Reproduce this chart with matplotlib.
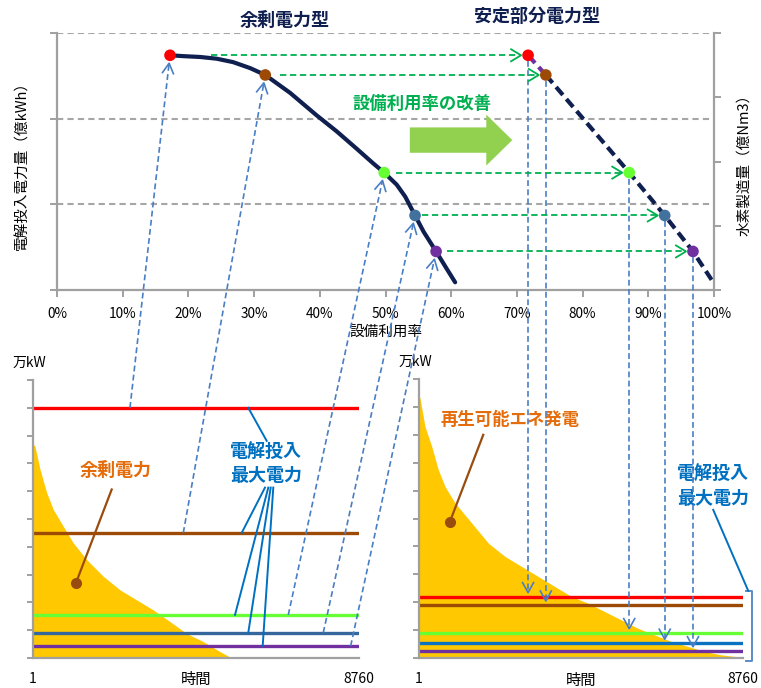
import numpy as np
import matplotlib
matplotlib.use("Agg")
import matplotlib.pyplot as plt
from matplotlib.lines import Line2D
from matplotlib.patches import FancyArrow

plt.rcParams['font.family'] = ['Noto Sans CJK JP', 'DejaVu Sans']

# --- 上段: 設備利用率 vs 電解投入電力量 ---
pt_colors = ['#FF0000', '#9C4A06', '#66FF33', '#41719C', '#7030A0']
pt_y = [2.74, 2.51, 1.37, 0.87, 0.45]          # 電解投入電力量
pt_x_surplus = [17.2, 31.7, 49.8, 54.5, 57.7]   # 余剰電力型の設備利用率(%)
pt_x_stable = [71.7, 74.4, 87.1, 92.5, 96.8]    # 安定部分電力型の設備利用率(%)
green_start_x = [23.5, 33.9, 51.6, 55.5, 59.3]

curve_x = [17.2, 19.2, 21.8, 24.3, 26.8, 29.4, 31.7, 35.5, 39.5, 42.6, 45.6, 48.1, 49.8, 51.7,
           53.0, 54.5, 55.8, 57.7, 59.3, 60.6]
curve_y = [2.74, 2.73, 2.72, 2.70, 2.66, 2.59, 2.51, 2.30, 2.04, 1.85, 1.65, 1.48, 1.37, 1.23,
           1.09, 0.87, 0.68, 0.45, 0.25, 0.09]
stable_end = (99.8, 0.10)

# --- 下段: 持続曲線 (時間 vs 万kW) ---
hours_l = [1, 54, 188, 368, 546, 814, 1083, 1443, 1889, 2338, 2786, 3232, 3681, 4130, 4576, 5025, 5339]
surplus_kw = [7.7, 7.62, 6.79, 5.95, 5.34, 4.74, 4.14, 3.54, 2.94, 2.45, 2.09, 1.73, 1.31, 0.88, 0.59, 0.23, 0.0]
hours_r = [1, 27, 162, 343, 522, 703, 973, 1424, 1873, 2325, 2776, 3225, 3676, 4127, 4576, 5028,
           5479, 5928, 6379, 6830, 7279, 7731, 8182, 8723, 8760]
renew_kw = [9.4, 9.32, 8.30, 7.59, 6.75, 6.15, 5.56, 4.84, 4.12, 3.64, 3.28, 2.92, 2.56, 2.20, 1.96, 1.66,
            1.36, 1.06, 0.82, 0.59, 0.41, 0.23, 0.11, 0.03, 0.0]
levels_l = [9.0, 4.5, 1.55, 0.91, 0.43]
levels_r = [2.2, 1.9, 0.91, 0.53, 0.26]
line_colors_l = ['#FF0000', '#9C4A06', '#66FF33', '#35679D', '#7030A0']
line_colors_r = ['#FF0000', '#9C4A06', '#66FF33', '#0A72C0', '#7030A0']
arrow_start_h = [2606, 4039, 6860, 7800, 8536]

NAVY = '#0F1F4F'
GRAY = '#A0A0A0'
ORANGE = '#E46C0A'
BLUE_TXT = '#0070C0'
ARROW_BLUE = '#4A7EC4'
ARROW_GREEN = '#00B050'
LEADER_BROWN = '#994C0F'

W, H = 761, 688
fig = plt.figure(figsize=(W / 100, H / 100), dpi=100)


def box(l, t, r, b):
    return [l / W, (H - b) / H, (r - l) / W, (b - t) / H]


def gray_spines(ax, keep):
    for k, s in ax.spines.items():
        if k in keep:
            s.set_color(GRAY)
            s.set_linewidth(1.6)
        else:
            s.set_visible(False)


# 上段
ax = fig.add_axes(box(57, 33, 714, 290))
ax.set_xlim(0, 100)
ax.set_ylim(0, 3)
ax.set_xticks(range(0, 101, 10))
ax.set_xticklabels([f'{v}%' for v in range(0, 101, 10)], fontsize=9.8)
ax.set_yticks([0, 1, 2, 3])
ax.set_yticklabels([])
ax.tick_params(axis='both', color=GRAY, length=5, width=1.4, pad=7)
gray_spines(ax, ['left', 'bottom'])
for g in [1, 2, 3]:
    ax.axhline(g, color='#A6A6A6', lw=1.5, dashes=(3, 2), zorder=1)
ax.set_xlabel('設備利用率', fontsize=10.5, labelpad=3)
ax.set_ylabel('電解投入電力量（億kWh）', fontsize=10.5, labelpad=8)

axr = ax.twinx()
axr.set_ylim(0, 4)
axr.set_yticks(range(5))
axr.set_yticklabels([])
axr.tick_params(axis='y', color=GRAY, length=5, width=1.4)
gray_spines(axr, ['right'])
axr.set_ylabel('水素製造量（億Nm3）', fontsize=10.5, labelpad=8)

ax.plot(curve_x, curve_y, color=NAVY, lw=3, solid_capstyle='round', solid_joinstyle='round', zorder=3)
ax.plot(pt_x_stable[:2], pt_y[:2], color='#7030A0', lw=3, dashes=(2.5, 1.3), zorder=3)
ax.plot(pt_x_stable[1:] + [stable_end[0]], pt_y[1:] + [stable_end[1]], color=NAVY, lw=3,
        dashes=(2.5, 1.3), zorder=3)
ax.scatter(pt_x_surplus, pt_y, s=70, c=pt_colors, zorder=4, linewidths=0)
ax.scatter(pt_x_stable, pt_y, s=70, c=pt_colors, zorder=4, linewidths=0)

ax.text(34.7, 3.15, '余剰電力型', ha='center', va='center', fontsize=13, fontweight='bold', color=NAVY)
ax.text(73.1, 3.19, '安定部分電力型', ha='center', va='center', fontsize=13, fontweight='bold', color=NAVY)
ax.text(55.6, 2.17, '設備利用率の改善', ha='center', va='center', fontsize=12.5, fontweight='bold',
        color=ARROW_GREEN)
ax.add_patch(FancyArrow(53.7, 1.75, 15.6, 0, width=0.296, head_width=0.595, head_length=3.96,
                        length_includes_head=True, color='#92D050', lw=0, zorder=2))

# 下段左: 余剰電力
axl = fig.add_axes(box(33, 380, 359, 658))
axl.set_xlim(1, 8760)
axl.set_ylim(0, 10)
axl.fill_between(hours_l, 0, surplus_kw, color='#FFC800', lw=0, zorder=1)
for lv, c in zip(levels_l, line_colors_l):
    axl.plot([1, 8760], [lv, lv], color=c, lw=2.4, zorder=2)

# 下段右: 再生可能エネ発電
axb = fig.add_axes(box(419, 379, 743, 658))
axb.set_xlim(1, 8760)
axb.set_ylim(0, 10)
axb.fill_between(hours_r, 0, renew_kw, color='#FFC800', lw=0, zorder=1)
for lv, c in zip(levels_r, line_colors_r):
    axb.plot([1, 8760], [lv, lv], color=c, lw=2.4, zorder=2)

for a in (axl, axb):
    gray_spines(a, ['left', 'bottom'])
    a.set_yticks(range(11))
    a.set_yticklabels([])
    a.tick_params(axis='y', color=GRAY, length=4, width=1.4)
    a.set_xticks([1, 8760])
    a.set_xticklabels(['1', '8760'], fontsize=10)
    a.tick_params(axis='x', length=0, pad=10)
    a.text(0.5, -0.079, '時間', transform=a.transAxes, ha='center', va='center', fontsize=11)
    a.text(-0.01, 1.06, '万kW', transform=a.transAxes, ha='center', va='center', fontsize=10)

# 注記
axl.text(2225, 6.73, '余剰電力', ha='center', va='center', fontsize=13, fontweight='bold', color=ORANGE)
axl.plot([2115, 1155], [6.06, 2.70], color=LEADER_BROWN, lw=1.6, zorder=3)
axl.plot([1155], [2.70], 'o', color=LEADER_BROWN, ms=7, zorder=3)
axl.text(6261, 6.97, '電解投入\n最大電力', ha='center', va='center', fontsize=13, fontweight='bold',
         color=BLUE_TXT, linespacing=1.3)
axl.plot([5785, 6280], [9.0, 7.81], color=BLUE_TXT, lw=1.4, zorder=3)
for x0, x1, lv in zip([6234, 6323, 6387, 6457], [5608, 5428, 5785, 6172], levels_l[1:]):
    axl.plot([x0, x1], [6.13, lv], color=BLUE_TXT, lw=1.4, zorder=3)

axb.text(2460, 8.54, '再生可能エネ発電', ha='center', va='center', fontsize=12.5, fontweight='bold',
         color=ORANGE)
axb.plot([1738, 838], [8.0, 4.89], color=LEADER_BROWN, lw=1.6, zorder=3)
axb.plot([838], [4.89], 'o', color=LEADER_BROWN, ms=7, zorder=3)
axb.text(7955, 6.15, '電解投入\n最大電力', ha='center', va='center', fontsize=13, fontweight='bold',
         color=BLUE_TXT, linespacing=1.3, clip_on=False)
axb.plot([7955, 8901], [5.31, 2.41], color=BLUE_TXT, lw=1.4, clip_on=False, zorder=3)
axb.plot([8831, 8993, 8993, 8831], [2.41, 2.41, -0.1, -0.1], color='#5B8CC8', lw=1.4, clip_on=False)

# 矢印 (図全体の座標で描く)
inv = fig.transFigure.inverted()


def px(a, x, y):
    return np.array(a.transData.transform((x, y)))


def dashed_arrow(p0, p1, color, lw, dashes, head_len=9, head_half=5, shrink0=0, shrink1=0):
    d = p1 - p0
    u = d / np.hypot(*d)
    n = np.array([-u[1], u[0]])
    a = p0 + u * shrink0
    b = p1 - u * shrink1
    seg = inv.transform([a, b])
    fig.add_artist(Line2D(seg[:, 0], seg[:, 1], transform=fig.transFigure, color=color, lw=lw,
                          dashes=dashes, zorder=5))
    hd = inv.transform([b - u * head_len + n * head_half, b, b - u * head_len - n * head_half])
    fig.add_artist(Line2D(hd[:, 0], hd[:, 1], transform=fig.transFigure, color=color, lw=lw, zorder=5))


for i in range(5):
    # 余剰電力の出力レベル -> 上段の点
    dashed_arrow(px(axl, arrow_start_h[i], levels_l[i]), px(ax, pt_x_surplus[i], pt_y[i]),
                 ARROW_BLUE, 1.2, (3.5, 2), shrink1=8, head_len=10, head_half=5.5)
    # 設備利用率の改善
    dashed_arrow(px(ax, green_start_x[i], pt_y[i]), px(ax, pt_x_stable[i], pt_y[i]),
                 ARROW_GREEN, 1.3, (3.5, 2), shrink1=7, head_len=10, head_half=6)
    # 上段の点 -> 安定部分電力の出力レベル
    top = px(ax, pt_x_stable[i], pt_y[i])
    bot = np.array([top[0], px(axb, 1, levels_r[i])[1]])
    dashed_arrow(top, bot, ARROW_BLUE, 1.2, (3.5, 2), shrink0=6, shrink1=4, head_len=10, head_half=5.5)

fig.savefig('out.png', dpi=100)
